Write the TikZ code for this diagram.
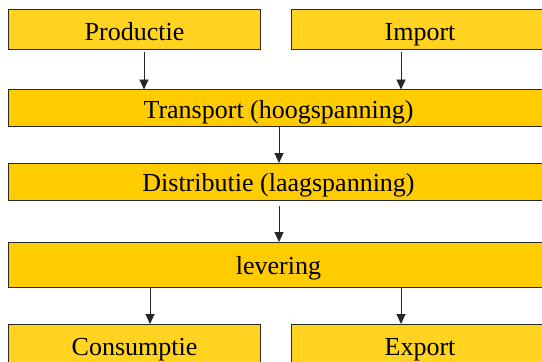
\documentclass[tikz,border=0pt]{standalone}
\usepackage{fontspec}
\setmainfont{Liberation Serif}
\usetikzlibrary{arrows.meta}
\definecolor{boxgold}{HTML}{FFCC00}
\definecolor{endgold}{HTML}{FFD31F}
\definecolor{edge}{HTML}{2A2A2A}
\tikzset{
  stage/.style={draw=edge, line width=0.9pt, fill=boxgold, rectangle,
    inner sep=0pt, outer sep=0pt, minimum height=37pt, minimum width=540pt,
    text height=20pt, text depth=0pt,
    font=\fontsize{26}{30}\selectfont},
  endpoint/.style={stage, fill=endgold, minimum height=40pt, minimum width=252pt,
    text height=22pt},
  flow/.style={draw=black!85, line width=0.9pt, -{Triangle[length=10pt,width=9pt]}}
}
\begin{document}
\begin{tikzpicture}[x=1pt,y=-1pt]
\useasboundingbox (0,0) rectangle (542,362);
\fill[white] (0,0) rectangle (542,362);
\clip (0,0) rectangle (542,362);
% source boxes
\node[endpoint] (prod) at (134.5,29) {Productie};
\node[endpoint, minimum width=258pt] (imp) at (420,29) {Import};
% network levels
\node[stage] (trans) at (278.5,108) {Transport (hoogspanning)};
\node[stage] (dist) at (278.5,181.5) {Distributie (laagspanning)};
\node[stage, minimum height=45pt] (lev) at (278.5,264.5) {levering};
% destination boxes
\node[endpoint] (cons) at (134.5,344) {Consumptie};
\node[endpoint, minimum width=258pt] (exp) at (420,344) {Export};
% flows
\draw[flow, shorten <=3pt] ([xshift=9.5pt]prod.south) -- ([xshift=9.5pt]prod.south |- trans.north);
\draw[flow, shorten <=3pt] ([xshift=-19pt]imp.south) -- ([xshift=-19pt]imp.south |- trans.north);
\draw[flow] ([xshift=0.5pt]trans.south) -- ([xshift=0.5pt]trans.south |- dist.north);
\draw[flow, shorten <=6pt] ([xshift=0.5pt]dist.south) -- ([xshift=0.5pt]dist.south |- lev.north);
\draw[flow] ([xshift=15.5pt]cons.north |- lev.south) -- ([xshift=15.5pt]cons.north);
\draw[flow] ([xshift=-19pt]exp.north |- lev.south) -- ([xshift=-19pt]exp.north);
\end{tikzpicture}
\end{document}
